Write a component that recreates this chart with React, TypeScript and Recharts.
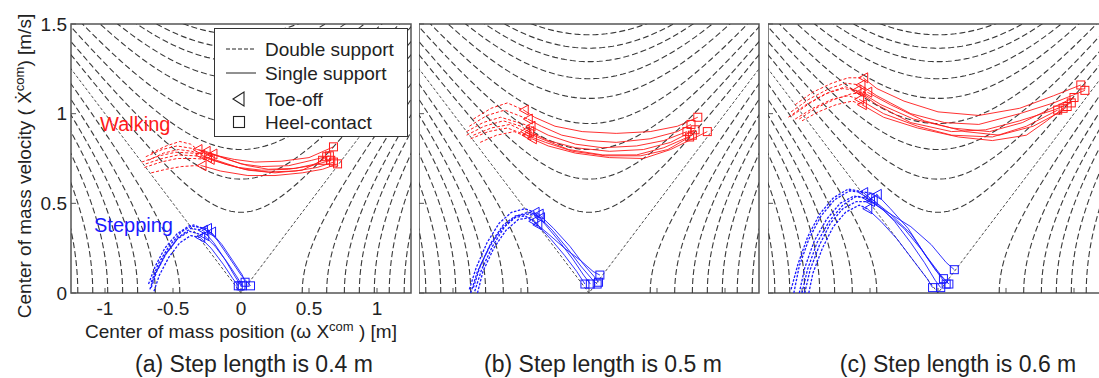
import React from 'react';
import {
  ReferenceArea,
  ReferenceLine,
  Scatter,
  ScatterChart,
  XAxis,
  YAxis,
} from 'recharts';

type P = [number, number];
type Traj = { ds: P[]; ss: P[] };

// axis ticks
const xTicks = [-1, -0.5, 0, 0.5, 1];
const yTicks = [0, 0.5, 1, 1.5];

// contour levels
// upper hyperbolas: velocity at x = 0
const upperVertex = [0.45, 0.635, 0.8, 0.945, 1.085, 1.195, 1.29, 1.365, 1.44, 1.505];
// side hyperbolas: position where velocity = 0
const sideIntercept = [0.45, 0.63, 0.76, 0.87, 0.98, 1.09, 1.2];

const captions = [
  '(a) Step length is 0.4 m',
  '(b) Step length is 0.5 m',
  '(c) Step length is 0.6 m',
];

// ds = double support (ends at toe-off), ss = single support (ends at heel-contact)
const walkA: Traj[] = [
  { ds: [[-0.66, 0.78], [-0.55, 0.82], [-0.45, 0.845], [-0.37, 0.83], [-0.32, 0.8]], ss: [[-0.2, 0.77], [-0.05, 0.745], [0.1, 0.73], [0.3, 0.735], [0.5, 0.755], [0.68, 0.815]] },
  { ds: [[-0.7, 0.76], [-0.58, 0.8], [-0.47, 0.82], [-0.35, 0.805], [-0.26, 0.79]], ss: [[-0.15, 0.76], [0, 0.72], [0.15, 0.705], [0.35, 0.71], [0.52, 0.74], [0.65, 0.765]] },
  { ds: [[-0.73, 0.73], [-0.6, 0.765], [-0.48, 0.785], [-0.36, 0.78], [-0.21, 0.775]], ss: [[-0.1, 0.745], [0.05, 0.71], [0.2, 0.69], [0.4, 0.695], [0.55, 0.72], [0.63, 0.76]] },
  { ds: [[-0.71, 0.7], [-0.59, 0.73], [-0.47, 0.75], [-0.35, 0.75], [-0.23, 0.745]], ss: [[-0.1, 0.715], [0.05, 0.685], [0.25, 0.67], [0.45, 0.685], [0.6, 0.74]] },
  { ds: [[-0.66, 0.67], [-0.55, 0.69], [-0.44, 0.705], [-0.34, 0.71], [-0.29, 0.71]], ss: [[-0.15, 0.68], [0.05, 0.655], [0.25, 0.655], [0.45, 0.67], [0.6, 0.69], [0.71, 0.72]] },
  { ds: [[-0.68, 0.74], [-0.57, 0.78], [-0.46, 0.8], [-0.36, 0.79], [-0.3, 0.77]], ss: [[-0.18, 0.74], [-0.02, 0.7], [0.15, 0.685], [0.35, 0.69], [0.52, 0.71], [0.66, 0.74]] },
  { ds: [[-0.7, 0.72], [-0.58, 0.75], [-0.46, 0.77], [-0.34, 0.765], [-0.25, 0.755]], ss: [[-0.12, 0.72], [0.03, 0.69], [0.2, 0.675], [0.4, 0.68], [0.56, 0.7], [0.68, 0.73]] },
];

const stepA: Traj[] = [
  { ds: [[-0.66, 0.03], [-0.62, 0.12], [-0.55, 0.22], [-0.46, 0.31], [-0.37, 0.36], [-0.28, 0.35]], ss: [[-0.2, 0.28], [-0.12, 0.19], [-0.05, 0.1], [0, 0.04]] },
  { ds: [[-0.68, 0.05], [-0.63, 0.15], [-0.56, 0.25], [-0.47, 0.33], [-0.38, 0.375], [-0.25, 0.36]], ss: [[-0.17, 0.29], [-0.08, 0.19], [0, 0.1], [0.07, 0.04]] },
  { ds: [[-0.64, 0.01], [-0.6, 0.1], [-0.53, 0.2], [-0.45, 0.28], [-0.37, 0.32], [-0.3, 0.31]], ss: [[-0.22, 0.25], [-0.13, 0.16], [-0.06, 0.08], [-0.02, 0.04]] },
  { ds: [[-0.66, 0.06], [-0.61, 0.16], [-0.53, 0.26], [-0.44, 0.34], [-0.35, 0.38], [-0.22, 0.34]], ss: [[-0.14, 0.27], [-0.06, 0.18], [0.01, 0.1], [0.03, 0.06]] },
  { ds: [[-0.67, 0.02], [-0.63, 0.11], [-0.56, 0.21], [-0.47, 0.3], [-0.38, 0.345], [-0.27, 0.32]], ss: [[-0.19, 0.26], [-0.1, 0.17], [-0.03, 0.09], [0.01, 0.04]] },
];

const walkB: Traj[] = [
  { ds: [[-0.85, 0.97], [-0.72, 1.03], [-0.6, 1.06], [-0.48, 1.02]], ss: [[-0.4, 0.98], [-0.25, 0.93], [-0.05, 0.9], [0.2, 0.89], [0.45, 0.9], [0.65, 0.93], [0.8, 0.98]] },
  { ds: [[-0.88, 0.93], [-0.75, 0.99], [-0.62, 1.02], [-0.45, 0.97]], ss: [[-0.35, 0.93], [-0.2, 0.88], [0, 0.85], [0.2, 0.84], [0.45, 0.86], [0.65, 0.9], [0.75, 0.94]] },
  { ds: [[-0.9, 0.9], [-0.78, 0.95], [-0.65, 0.98], [-0.43, 0.93]], ss: [[-0.3, 0.88], [-0.1, 0.83], [0.1, 0.81], [0.35, 0.82], [0.55, 0.85], [0.72, 0.9]] },
  { ds: [[-0.85, 0.88], [-0.72, 0.92], [-0.58, 0.94], [-0.47, 0.9]], ss: [[-0.35, 0.86], [-0.15, 0.8], [0.1, 0.77], [0.35, 0.77], [0.55, 0.81], [0.76, 0.88]] },
  { ds: [[-0.8, 0.84], [-0.68, 0.88], [-0.55, 0.9], [-0.42, 0.86]], ss: [[-0.3, 0.82], [-0.1, 0.78], [0.15, 0.755], [0.4, 0.75], [0.6, 0.8], [0.87, 0.9]] },
  { ds: [[-0.9, 0.88], [-0.77, 0.93], [-0.63, 0.96], [-0.5, 0.93], [-0.44, 0.9]], ss: [[-0.3, 0.85], [-0.1, 0.81], [0.15, 0.79], [0.4, 0.8], [0.6, 0.84], [0.78, 0.91]] },
  { ds: [[-0.87, 0.86], [-0.74, 0.9], [-0.6, 0.92], [-0.46, 0.88]], ss: [[-0.32, 0.84], [-0.12, 0.79], [0.12, 0.765], [0.38, 0.765], [0.58, 0.8], [0.74, 0.87]] },
];

const stepB: Traj[] = [
  { ds: [[-0.88, 0.02], [-0.83, 0.14], [-0.75, 0.28], [-0.66, 0.39], [-0.57, 0.45], [-0.47, 0.47], [-0.4, 0.45]], ss: [[-0.32, 0.38], [-0.22, 0.29], [-0.12, 0.19], [-0.04, 0.1], [0.01, 0.05]] },
  { ds: [[-0.85, 0.03], [-0.8, 0.15], [-0.72, 0.28], [-0.63, 0.38], [-0.54, 0.43], [-0.44, 0.44], [-0.36, 0.42]], ss: [[-0.27, 0.35], [-0.16, 0.25], [-0.06, 0.15], [0.03, 0.07], [0.06, 0.05]] },
  { ds: [[-0.82, 0], [-0.78, 0.12], [-0.7, 0.25], [-0.61, 0.35], [-0.52, 0.41], [-0.43, 0.42], [-0.38, 0.38]], ss: [[-0.28, 0.3], [-0.18, 0.21], [-0.09, 0.12], [-0.03, 0.05]] },
  { ds: [[-0.87, 0], [-0.82, 0.12], [-0.73, 0.26], [-0.64, 0.36], [-0.55, 0.42], [-0.47, 0.43], [-0.41, 0.4]], ss: [[-0.3, 0.33], [-0.18, 0.25], [-0.06, 0.18], [0.03, 0.12], [0.08, 0.1]] },
  { ds: [[-0.84, 0.01], [-0.79, 0.13], [-0.71, 0.26], [-0.62, 0.37], [-0.53, 0.43], [-0.45, 0.45], [-0.37, 0.44]], ss: [[-0.26, 0.36], [-0.14, 0.26], [-0.04, 0.16], [0.04, 0.09], [0.07, 0.06]] },
];

const walkC: Traj[] = [
  { ds: [[-1.05, 1.05], [-0.92, 1.12], [-0.78, 1.17], [-0.66, 1.2], [-0.55, 1.2]], ss: [[-0.45, 1.14], [-0.25, 1.07], [0, 1.01], [0.3, 0.99], [0.6, 1.03], [0.85, 1.1], [1.05, 1.16]] },
  { ds: [[-1.08, 1.01], [-0.95, 1.08], [-0.8, 1.14], [-0.68, 1.17], [-0.57, 1.16]], ss: [[-0.45, 1.1], [-0.2, 1], [0.05, 0.95], [0.3, 0.94], [0.6, 1], [0.85, 1.06], [1.08, 1.13]] },
  { ds: [[-1.1, 0.98], [-0.97, 1.05], [-0.83, 1.11], [-0.7, 1.14], [-0.6, 1.13]], ss: [[-0.45, 1.05], [-0.2, 0.95], [0.1, 0.9], [0.35, 0.91], [0.6, 0.96], [0.85, 1.02], [0.98, 1.06]] },
  { ds: [[-1.05, 0.97], [-0.92, 1.03], [-0.78, 1.08], [-0.66, 1.1], [-0.58, 1.08]], ss: [[-0.4, 1], [-0.15, 0.93], [0.1, 0.88], [0.4, 0.87], [0.65, 0.93], [0.88, 1.02]] },
  { ds: [[-1, 0.96], [-0.88, 1.01], [-0.75, 1.05], [-0.63, 1.07], [-0.56, 1.05]], ss: [[-0.4, 0.98], [-0.15, 0.92], [0.15, 0.87], [0.4, 0.85], [0.65, 0.88], [0.8, 0.96], [0.92, 1.03]] },
  { ds: [[-1.07, 0.99], [-0.94, 1.06], [-0.8, 1.12], [-0.68, 1.15], [-0.57, 1.12]], ss: [[-0.42, 1.05], [-0.18, 0.97], [0.1, 0.92], [0.38, 0.9], [0.62, 0.95], [0.86, 1.04], [1, 1.09]] },
  { ds: [[-1.02, 0.97], [-0.9, 1.03], [-0.76, 1.08], [-0.64, 1.11], [-0.52, 1.12]], ss: [[-0.35, 1.05], [-0.1, 0.96], [0.2, 0.9], [0.45, 0.88], [0.7, 0.93], [0.9, 1.01], [0.95, 1.04]] },
];

const stepC: Traj[] = [
  { ds: [[-1.06, 0], [-1.02, 0.15], [-0.95, 0.3], [-0.86, 0.43], [-0.76, 0.52], [-0.65, 0.57], [-0.55, 0.56]], ss: [[-0.45, 0.5], [-0.32, 0.4], [-0.2, 0.28], [-0.1, 0.17], [-0.02, 0.07], [0.02, 0.03]] },
  { ds: [[-1.02, 0], [-0.98, 0.14], [-0.91, 0.29], [-0.82, 0.41], [-0.72, 0.5], [-0.62, 0.54], [-0.52, 0.53]], ss: [[-0.4, 0.46], [-0.25, 0.36], [-0.12, 0.24], [-0.02, 0.13], [0.04, 0.08]] },
  { ds: [[-0.98, 0], [-0.94, 0.13], [-0.87, 0.27], [-0.79, 0.39], [-0.7, 0.47], [-0.6, 0.51], [-0.5, 0.51]], ss: [[-0.37, 0.45], [-0.2, 0.37], [-0.05, 0.27], [0.06, 0.17], [0.12, 0.13]] },
  { ds: [[-1.08, 0.02], [-1.03, 0.16], [-0.96, 0.31], [-0.87, 0.44], [-0.77, 0.53], [-0.66, 0.58], [-0.45, 0.55]], ss: [[-0.35, 0.47], [-0.22, 0.36], [-0.1, 0.22], [0, 0.11], [0.06, 0.05]] },
  { ds: [[-0.95, 0], [-0.92, 0.11], [-0.85, 0.25], [-0.77, 0.37], [-0.68, 0.45], [-0.58, 0.49], [-0.52, 0.47]], ss: [[-0.42, 0.4], [-0.3, 0.3], [-0.18, 0.18], [-0.08, 0.08], [-0.04, 0.03]] },
  { ds: [[-1, 0], [-0.96, 0.13], [-0.89, 0.28], [-0.8, 0.4], [-0.7, 0.49], [-0.6, 0.54], [-0.48, 0.52]], ss: [[-0.35, 0.44], [-0.2, 0.33], [-0.08, 0.2], [0.02, 0.1], [0.08, 0.05]] },
];

const RED = '#ff1a1a';
const BLUE = '#1a1aff';
const GRID = '#3a3a3a';
const FONT = '"Liberation Sans", Arial, sans-serif';

const toPts = (arr: P[]) => arr.map(([x, y]) => ({ x, y }));

// orbital-energy contour curves for each level
const samples = Array.from({ length: 61 }, (_, i) => i / 40);
const upperCurve = (v: number) =>
  samples.flatMap((s) => [-s, s]).sort((a, b) => a - b).map((x) => ({ x, y: Math.sqrt(v * v + x * x) }));
const sideCurve = (a: number, sign: number) =>
  samples.map((y) => ({ x: sign * Math.sqrt(a * a + y * y), y }));

const noDot = () => <g />;

const Triangle = (props: any) => {
  const { cx, cy, stroke } = props;
  return (
    <polygon
      points={`${cx - 4.5},${cy} ${cx + 4.5},${cy - 5} ${cx + 4.5},${cy + 5}`}
      fill='none'
      stroke={stroke}
      strokeWidth={1}
    />
  );
};

const Square = (props: any) => {
  const { cx, cy, stroke } = props;
  return <rect x={cx - 4} y={cy - 4} width={8} height={8} fill='none' stroke={stroke} strokeWidth={1} />;
};

type PanelProps = { left: number; walk: Traj[]; step: Traj[]; labels: boolean };

const Panel = ({ left, walk, step, labels }: PanelProps) => {
  const renderGroup = (group: Traj[], color: string, key: string, dash: string, dashWidth: number) =>
    group.flatMap((t, i) => {
      const toe = t.ds[t.ds.length - 1];
      return [
        <Scatter
          key={`${key}d${i}`}
          data={toPts(t.ds)}
          fill={color}
          shape={noDot}
          line={{ stroke: color, strokeWidth: dashWidth, strokeDasharray: dash }}
          isAnimationActive={false}
        />,
        <Scatter
          key={`${key}s${i}`}
          data={toPts([toe, ...t.ss])}
          fill={color}
          shape={noDot}
          line={{ stroke: color, strokeWidth: 0.9 }}
          isAnimationActive={false}
        />,
      ];
    });

  const toes = (group: Traj[]) => group.map((t) => t.ds[t.ds.length - 1]);
  const heels = (group: Traj[]) => group.map((t) => t.ss[t.ss.length - 1]);

  const tickLen = { x: 0.037, y: 0.028 };
  const contourLine = { stroke: GRID, strokeWidth: 1.1, strokeDasharray: '6 3' };

  return (
    <div style={{ position: 'absolute', left, top: 0 }}>
      <ScatterChart
        width={labels ? 416 : 345}
        height={378}
        margin={{ top: 24, right: 5, bottom: labels ? 55 : 85, left: 0 }}
      >
        <XAxis
          type='number'
          dataKey='x'
          domain={[-1.25, 1.25]}
          ticks={xTicks}
          allowDataOverflow
          hide={!labels}
          height={30}
          axisLine={false}
          tickLine={false}
          tickSize={6}
          tickMargin={3}
          tick={{ fill: '#222', fontSize: 19, fontFamily: FONT }}
        />
        <YAxis
          type='number'
          dataKey='y'
          domain={[0, 1.5]}
          ticks={yTicks}
          allowDataOverflow
          hide={!labels}
          width={71}
          axisLine={false}
          tickLine={false}
          tickSize={4}
          tickMargin={0}
          tick={{ fill: '#222', fontSize: 19, fontFamily: FONT }}
        />

        {/* contour lines */}
        {upperVertex.map((v, i) => (
          <Scatter key={`u${i}`} data={upperCurve(v)} fill={GRID} shape={noDot} line={contourLine} isAnimationActive={false} />
        ))}
        {sideIntercept.flatMap((a, i) => [
          <Scatter key={`l${i}`} data={sideCurve(a, -1)} fill={GRID} shape={noDot} line={contourLine} isAnimationActive={false} />,
          <Scatter key={`r${i}`} data={sideCurve(a, 1)} fill={GRID} shape={noDot} line={contourLine} isAnimationActive={false} />,
        ])}
        <Scatter
          data={[{ x: -1.5, y: 1.5 }, { x: 0, y: 0 }, { x: 1.5, y: 1.5 }]}
          fill={GRID}
          shape={noDot}
          line={{ stroke: GRID, strokeWidth: 0.9, strokeDasharray: '3 2' }}
          isAnimationActive={false}
        />

        {renderGroup(walk, RED, 'w', '3 2', 1)}
        {renderGroup(step, BLUE, 's', '2.5 1.5', 1.3)}

        <Scatter data={toPts(toes(walk))} stroke={RED} shape={<Triangle />} isAnimationActive={false} />
        <Scatter data={toPts(heels(walk))} stroke={RED} shape={<Square />} isAnimationActive={false} />
        <Scatter data={toPts(toes(step))} stroke={BLUE} shape={<Triangle />} isAnimationActive={false} />
        <Scatter data={toPts(heels(step))} stroke={BLUE} shape={<Square />} isAnimationActive={false} />

        {/* inward ticks */}
        {xTicks.map((t) => (
          <ReferenceLine key={`xt${t}`} segment={[{ x: t, y: 0 }, { x: t, y: tickLen.y }]} stroke='#555' />
        ))}
        {yTicks.map((t) => (
          <ReferenceLine key={`yt${t}`} segment={[{ x: -1.25, y: t }, { x: -1.25 + tickLen.x, y: t }]} stroke='#555' />
        ))}

        <ReferenceArea x1={-1.25} x2={1.25} y1={0} y2={1.5} fill='none' stroke='#555' strokeWidth={1.5} />
      </ScatterChart>
    </div>
  );
};

const Legend = () => (
  <svg
    width={194}
    height={109}
    style={{ position: 'absolute', left: 214, top: 28, background: '#fff' }}
  >
    <rect x={0.5} y={0.5} width={193} height={108} fill='#fff' stroke='#333' strokeWidth={1} />
    <line x1={12} x2={42} y1={21} y2={21} stroke='#222' strokeWidth={1} strokeDasharray='4 2' />
    <line x1={12} x2={42} y1={45} y2={45} stroke='#222' strokeWidth={1} />
    <polygon points='19,71 30,64 30,78' fill='none' stroke='#222' strokeWidth={1.1} />
    <rect x={19.5} y={88.5} width={11} height={11} fill='none' stroke='#222' strokeWidth={1.1} />
    <g fontFamily={FONT} fontSize={19} fill='#222'>
      <text x={51} y={28}>Double support</text>
      <text x={51} y={52}>Single support</text>
      <text x={51} y={78}>Toe-off</text>
      <text x={51} y={101}>Heel-contact</text>
    </g>
  </svg>
);

export default function App() {
  return (
    <div
      style={{
        position: 'absolute',
        left: 0,
        top: 0,
        width: 1099,
        height: 378,
        overflow: 'hidden',
        background: '#fff',
        fontFamily: FONT,
      }}
    >
      <Panel left={0} walk={walkA} step={stepA} labels />
      <Panel left={419} walk={walkB} step={stepB} labels={false} />
      <Panel left={768} walk={walkC} step={stepC} labels={false} />
      <Legend />
      <svg width={1099} height={378} style={{ position: 'absolute', left: 0, top: 0, pointerEvents: 'none' }}>
        <g fontFamily={FONT} fill='#222'>
          <text x={100} y={131} fontSize={20} fill={RED}>Walking</text>
          <text x={94} y={232} fontSize={20} fill={BLUE}>Stepping</text>
          <text transform='translate(31,166) rotate(-90)' textAnchor='middle' fontSize={19}>
            Center of mass velocity ( Ẋ<tspan dy={-7} fontSize={13}>com</tspan>
            <tspan dy={7}>) [m/s]</tspan>
          </text>
          <text x={241} y={338} textAnchor='middle' fontSize={19}>
            Center of mass position (ω X<tspan dy={-7} fontSize={13}>com</tspan>
            <tspan dy={7}> ) [m]</tspan>
          </text>
          <text x={254} y={372} textAnchor='middle' fontSize={23}>{captions[0]}</text>
          <text x={603} y={372} textAnchor='middle' fontSize={23}>{captions[1]}</text>
          <text x={958} y={372} textAnchor='middle' fontSize={23}>{captions[2]}</text>
        </g>
      </svg>
    </div>
  );
}
